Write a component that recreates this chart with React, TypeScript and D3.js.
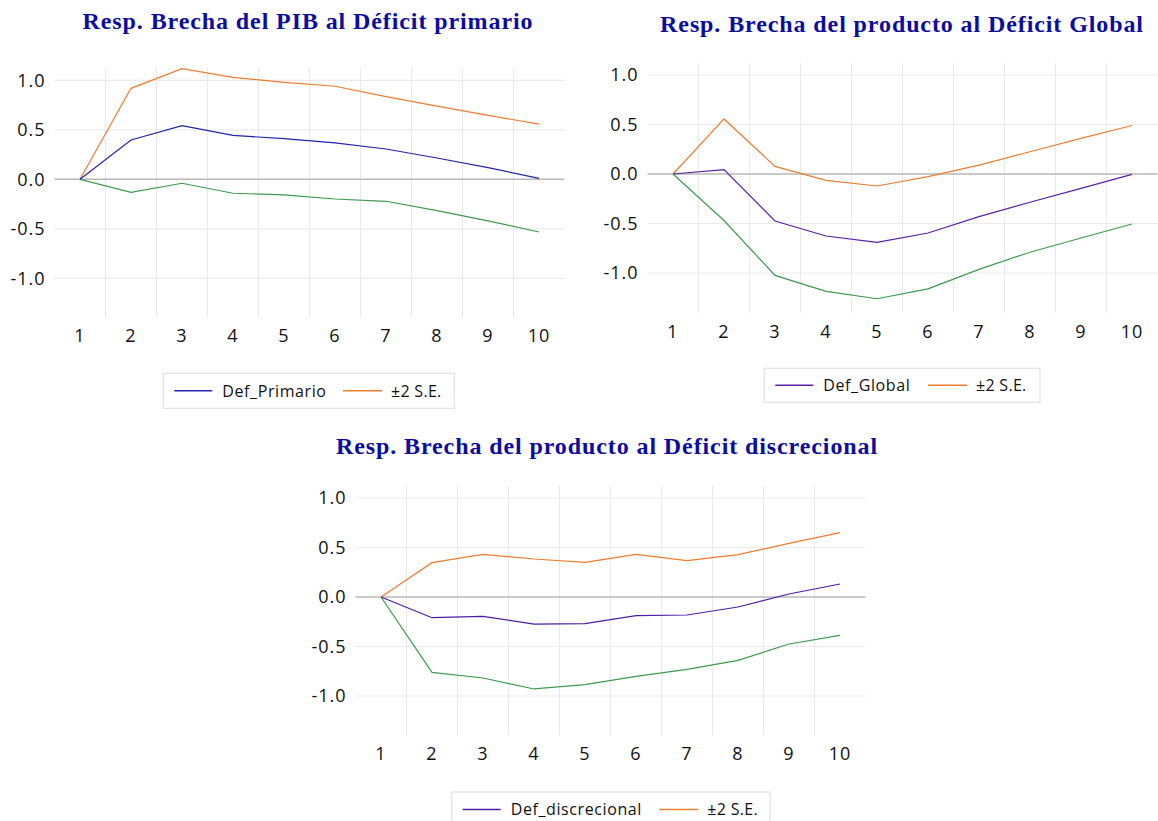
import React from "react";
import * as d3 from "d3";

// Horizon (periods after the shock)
const periods = [1, 2, 3, 4, 5, 6, 7, 8, 9, 10];
const yTicks = [1.0, 0.5, 0.0, -0.5, -1.0];

// Response of the output gap to the primary deficit
const primarioResp = [0, 0.397, 0.542, 0.444, 0.41, 0.367, 0.306, 0.215, 0.118, 0.01];
const primarioUpper = [0, 0.919, 1.118, 1.03, 0.98, 0.94, 0.835, 0.74, 0.646, 0.558];
const primarioLower = [0, -0.131, -0.04, -0.141, -0.158, -0.199, -0.222, -0.316, -0.42, -0.532];

// Response of the output gap to the global deficit
const globalResp = [0, 0.044, -0.475, -0.626, -0.69, -0.596, -0.43, -0.285, -0.145, -0.003];
const globalUpper = [0, 0.556, 0.077, -0.064, -0.121, -0.027, 0.09, 0.225, 0.36, 0.49];
const globalLower = [0, -0.47, -1.024, -1.185, -1.26, -1.16, -0.963, -0.79, -0.646, -0.505];

// Response of the output gap to the discretionary deficit
const discResp = [0, -0.209, -0.195, -0.273, -0.269, -0.189, -0.182, -0.101, 0.03, 0.131];
const discUpper = [0, 0.347, 0.431, 0.384, 0.35, 0.431, 0.367, 0.428, 0.542, 0.65];
const discLower = [0, -0.761, -0.818, -0.929, -0.886, -0.801, -0.731, -0.64, -0.475, -0.387];

const titles = [
  "Resp. Brecha del PIB al Déficit primario",
  "Resp. Brecha del producto al Déficit Global",
  "Resp. Brecha del producto al Déficit discrecional",
];
const seriesNames = ["Def_Primario", "Def_Global", "Def_discrecional"];
const bandName = "±2 S.E.";

const ORANGE = "#ED7D31";
const GREEN = "#3F9A50";
const TEXT = "#111";
const LABEL_FONT = "'Open Sans', 'Noto Sans', sans-serif";

// one decimal, plain hyphen for negatives
const fmt = (v: number) => d3.format(".1f")(v).replace("\u2212", "-");

type PanelProps = {
  title: string;
  name: string;
  resp: number[];
  upper: number[];
  lower: number[];
  respColor: string;
  x0: number;
  x1: number;
  top: number;
  zeroY: number;
  titleX: number;
  titleY: number;
  xLabelY: number;
  legend: { x: number; y: number; w: number; h: number; line2: number };
};

function Panel(p: PanelProps) {
  const unit = 99;
  const yMax = (p.zeroY - p.top) / unit;
  const bottom = p.zeroY + 1.4 * unit;
  const y = d3.scaleLinear().domain([-1.4, yMax]).range([bottom, p.top]);
  const x = d3
    .scalePoint<number>()
    .domain(periods)
    .range([p.x0, p.x1])
    .padding(0.5);
  const step = x.step();
  const line = d3
    .line<number>()
    .x((_, i) => x(periods[i]) as number)
    .y((v) => y(v));

  const lg = p.legend;
  const cy = lg.y + lg.h / 2;

  return (
    <g>
      <text
        x={p.titleX}
        y={p.titleY}
        textAnchor="middle"
        fontFamily="'Liberation Serif', 'Times New Roman', serif"
        fontWeight="bold"
        fontSize={24}
        letterSpacing={0.9}
        fill="#0C0CA0"
      >
        {p.title}
      </text>
      {/* vertical grid between periods */}
      {periods.slice(0, -1).map((s) => (
        <line
          key={"v" + s}
          x1={(x(s) as number) + step / 2}
          x2={(x(s) as number) + step / 2}
          y1={p.top}
          y2={bottom}
          stroke="#e9e9e9"
          strokeWidth={1}
        />
      ))}
      {yTicks.map((t) => (
        <line
          key={"h" + t}
          x1={p.x0}
          x2={p.x1}
          y1={y(t)}
          y2={y(t)}
          stroke={t === 0 ? "#b8b8b8" : "#ebebeb"}
          strokeWidth={t === 0 ? 1.5 : 1.2}
        />
      ))}
      {yTicks.map((t) => (
        <text
          key={"yl" + t}
          x={p.x0 - 9}
          y={y(t)}
          dy="0.36em"
          textAnchor="end"
          fontFamily={LABEL_FONT}
          fontSize={18}
          letterSpacing={1}
          fill={TEXT}
        >
          {fmt(t)}
        </text>
      ))}
      {periods.map((s) => (
        <text
          key={"xl" + s}
          x={x(s) as number}
          y={p.xLabelY}
          dy="0.36em"
          textAnchor="middle"
          fontFamily={LABEL_FONT}
          fontSize={18}
          letterSpacing={1}
          fill={TEXT}
        >
          {s}
        </text>
      ))}
      <path d={line(p.upper) ?? ""} fill="none" stroke={ORANGE} strokeWidth={1.2} />
      <path d={line(p.lower) ?? ""} fill="none" stroke={GREEN} strokeWidth={1.2} />
      <path d={line(p.resp) ?? ""} fill="none" stroke={p.respColor} strokeWidth={1.2} />

      <rect
        x={lg.x}
        y={lg.y}
        width={lg.w}
        height={lg.h}
        fill="#fff"
        stroke="#e2e2e2"
        strokeWidth={1.2}
      />
      <line x1={lg.x + 11} x2={lg.x + 49} y1={cy} y2={cy} stroke={p.respColor} strokeWidth={1.5} />
      <text
        x={lg.x + 59}
        y={cy}
        dy="0.36em"
        fontFamily={LABEL_FONT}
        fontSize={16}
        letterSpacing={0.6}
        fill={TEXT}
      >
        {p.name}
      </text>
      <line x1={lg.line2} x2={lg.line2 + 39} y1={cy} y2={cy} stroke={ORANGE} strokeWidth={1.5} />
      <text
        x={lg.line2 + 48}
        y={cy}
        dy="0.36em"
        fontFamily={LABEL_FONT}
        fontSize={16}
        letterSpacing={0.3}
        fill={TEXT}
      >
        {bandName}
      </text>
    </g>
  );
}

export default function App() {
  return (
    <svg
      width={1158}
      height={821}
      style={{ position: "absolute", left: 0, top: 0, background: "#fff" }}
    >
      <Panel
        title={titles[0]}
        name={seriesNames[0]}
        resp={primarioResp}
        upper={primarioUpper}
        lower={primarioLower}
        respColor="#2323B0"
        x0={54.5}
        x1={564.5}
        top={68.3}
        zeroY={179.3}
        titleX={308}
        titleY={29}
        xLabelY={336}
        legend={{ x: 163.3, y: 373.3, w: 291, h: 35, line2: 343 }}
      />
      <Panel
        title={titles[1]}
        name={seriesNames[1]}
        resp={globalResp}
        upper={globalUpper}
        lower={globalLower}
        respColor="#5A1FA8"
        x0={647.5}
        x1={1157.5}
        top={63.3}
        zeroY={174}
        titleX={902}
        titleY={31.5}
        xLabelY={331.7}
        legend={{ x: 764.3, y: 368.3, w: 275.7, h: 34, line2: 928 }}
      />
      <Panel
        title={titles[2]}
        name={seriesNames[2]}
        resp={discResp}
        upper={discUpper}
        lower={discLower}
        respColor="#4E1DA3"
        x0={355.5}
        x1={865.5}
        top={486}
        zeroY={597}
        titleX={607}
        titleY={454}
        xLabelY={754}
        legend={{ x: 451.7, y: 792, w: 318.3, h: 35, line2: 659.3 }}
      />
    </svg>
  );
}
